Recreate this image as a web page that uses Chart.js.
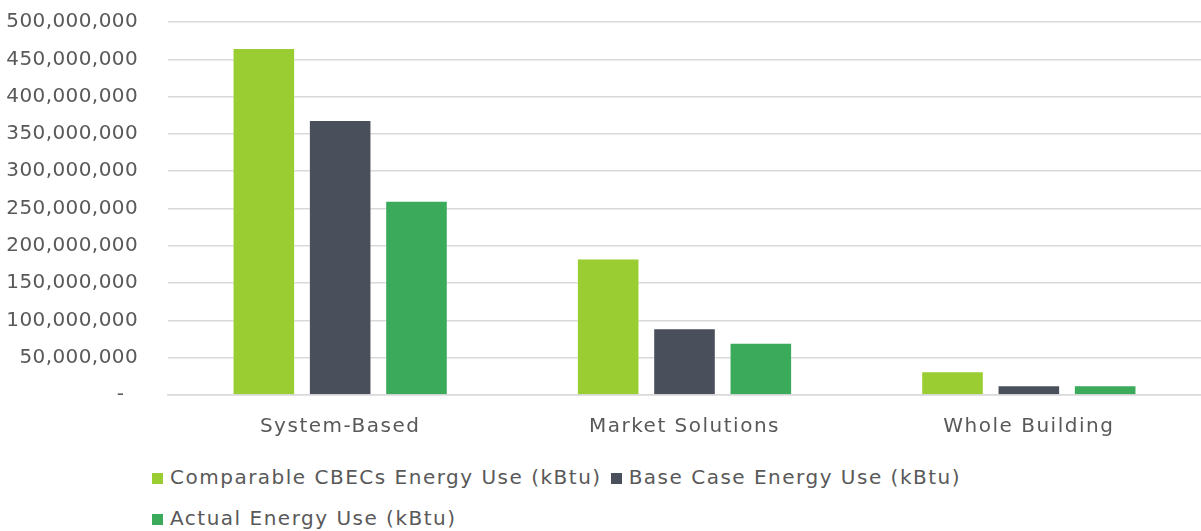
<!DOCTYPE html>
<html>
<head>
<meta charset="utf-8">
<script src="https://cdn.jsdelivr.net/npm/chart.js@4.4.1/dist/chart.umd.min.js"></script>
<style>
  html, body { margin:0; padding:0; background:#fff; }
  #wrap { position:relative; width:1201px; height:531px; font-family:'DejaVu Sans', sans-serif; }
  #box { position:absolute; left:0; top:0; width:1201px; height:450px; }
  #legend { position:absolute; left:152px; top:461px; color:#595959; font-size:20px; letter-spacing:1.5px; }
  #legend .row { height:41px; line-height:32px; white-space:nowrap; }
  #legend .item { display:inline-block; margin-right:9px; }
  #legend .sw { display:inline-block; width:11px; height:11px; margin-right:7px; vertical-align:0px; }
</style>
</head>
<body>
<div id="wrap">
  <div id="box"><canvas id="c"></canvas></div>
  <div id="legend"></div>
</div>
<script>
// 能耗对比柱状图

const categories = ['System-Based', 'Market Solutions', 'Whole Building'];
const seriesNames = ['Comparable CBECs Energy Use (kBtu)', 'Base Case Energy Use (kBtu)', 'Actual Energy Use (kBtu)'];
const cbecs = [465000000, 183000000, 31700000];
const baseCase = [368500000, 89500000, 13000000];
const actual = [260500000, 70000000, 13000000];
const colors = ['#9ACD32', '#4A4F5C', '#3BAA5B'];
const legendRows = [[0, 1], [2]];

const textColor = '#595959';
const font = { family:'"DejaVu Sans", sans-serif', size:20 };

// 坐标轴标签加字距，模仿原图的宽字体
const spacingPlugin = {
  id:'labelSpacing',
  beforeDraw(chart){
    [['x', '1.5px'], ['y', '0.4px']].forEach(([id, sp]) => {
      const s = chart.scales[id];
      if (s._patched) return;
      const orig = s.drawLabels;
      s.drawLabels = function(area){
        const ctx = this.ctx;
        ctx.save();
        ctx.letterSpacing = sp;
        orig.call(this, area);
        ctx.restore();
      };
      s._patched = true;
    });
  }
};

const chart = new Chart(document.getElementById('c'), {
  type:'bar',
  data:{
    labels:categories,
    datasets:[cbecs, baseCase, actual].map((d, i) => ({
      label:seriesNames[i], data:d, backgroundColor:colors[i],
      borderColor:'rgba(255,255,255,.35)', borderWidth:1,
      barPercentage:0.82, categoryPercentage:0.665
    }))
  },
  plugins:[spacingPlugin],
  options:{
    responsive:true, maintainAspectRatio:false, animation:false,
    layout:{ padding:{ top:22, right:0, left:0, bottom:0 } },
    plugins:{ legend:{ display:false }, tooltip:{ enabled:false } },
    scales:{
      x:{
        grid:{ display:false },
        border:{ color:'#d9d9d9', width:1.5 },
        ticks:{ color:textColor, font, padding:12 },
        afterFit(s){ s.height = 55; }
      },
      y:{
        min:0, max:500000000,
        grid:{ color:'#d9d9d9', lineWidth:1.5, drawTicks:true, tickLength:30, tickColor:'rgba(0,0,0,0)' },
        border:{ display:false },
        ticks:{
          stepSize:50000000, color:textColor, font, padding:0,
          // 会计格式：零显示为 "-"
          callback:v => v === 0 ? '-  ' : v.toLocaleString('en-US')
        },
        afterFit(s){ s.width = 168; }
      }
    }
  }
});

// 图例（两行）
const lg = document.getElementById('legend');
legendRows.forEach(r => {
  const row = document.createElement('div');
  row.className = 'row';
  r.forEach(i => {
    const ds = chart.data.datasets[i];
    const it = document.createElement('span');
    it.className = 'item';
    it.innerHTML = '<span class="sw" style="background:' + ds.backgroundColor + '"></span>' + ds.label;
    row.appendChild(it);
  });
  lg.appendChild(row);
});
</script>
</body>
</html>
